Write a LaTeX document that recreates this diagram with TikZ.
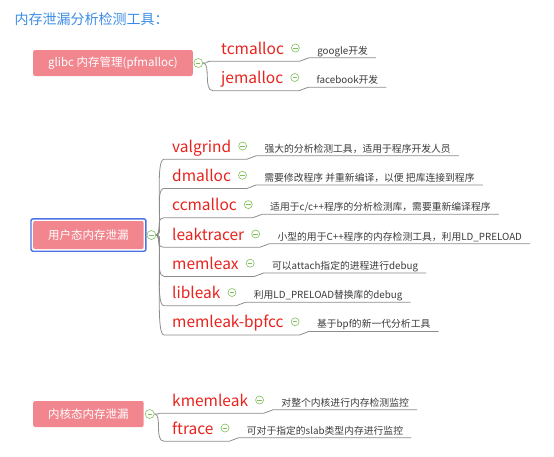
\documentclass[tikz,border=0pt]{standalone}
\usepackage{fontspec}
\setmainfont{Noto Sans CJK SC}
\usetikzlibrary{positioning,fit}
\definecolor{rootpink}{HTML}{F2868F}
\definecolor{toolred}{HTML}{E8221C}
\definecolor{titleblue}{HTML}{3C8CE6}
\definecolor{foldgreen}{HTML}{7FBF5A}
\definecolor{selblue}{HTML}{4C72E6}
\definecolor{linegray}{HTML}{8C8C8C}
\definecolor{notegray}{HTML}{3A3A3A}

\begin{document}
\begin{tikzpicture}[x=1pt, y=-1pt,
	root/.style={rectangle, rounded corners=2pt, fill=rootpink, text=white, font=\fontsize{11.5}{14}\selectfont, minimum height=26pt, inner xsep=15pt, anchor=west},
	tool/.style={text=toolred, font=\fontsize{15.5}{19}\selectfont, inner sep=0pt, text height=12pt, text depth=7pt, anchor=base west},
	note/.style={text=notegray, font=\fontsize{9.8}{12}\selectfont, inner xsep=8pt, inner ysep=0pt, text height=8pt, text depth=3.5pt},
	fold/.style={circle, draw=foldgreen, fill=white, line width=0.6pt, minimum size=8pt, inner sep=0pt,
		path picture={\draw[foldgreen, line width=0.7pt] ([xshift=-2.2pt]path picture bounding box.center) -- ([xshift=2.2pt]path picture bounding box.center);}},
	branch/.style={draw=linegray, line width=0.8pt}]
	\useasboundingbox (0,0) rectangle (554,456);
	\node[text=titleblue, font=\fontsize{14}{16}\selectfont, anchor=west] (title) at (11,19) {内存泄漏分析检测工具：};
	\node[root] (glibc) at (33,63) {glibc 内存管理(pfmalloc)};
	\node[root, minimum height=28pt] (user) at (33,235) {用户态内存泄漏};
	\node[draw=selblue, line width=1.4pt, rounded corners=2pt, inner sep=2pt, fit=(user)] (usersel) {};
	\node[root] (kernel) at (33,414) {内核态内存泄漏};
	\node[fold, minimum size=9pt, right=0.5pt of glibc] (gj) {};
	\node[fold, minimum size=9pt, right=0pt of usersel] (uj) {};
	\node[fold, minimum size=9pt, right=1pt of kernel] (kj) {};
	\foreach \r/\x/\y/\lab/\txt [count=\i] in {
			gj/221/54/tcmalloc/google开发,
			gj/221/83.5/jemalloc/facebook开发,
			uj/172/152/valgrind/强大的分析检测工具，适用于程序开发人员,
			uj/172/181.3/dmalloc/需要修改程序 并重新编译，以便 把库连接到程序,
			uj/172/210.6/ccmalloc/{适用于c/c++程序的分析检测库，需要重新编译程序},
			uj/172/240/leaktracer/小型的用于C++程序的内存检测工具，利用LD\_PRELOAD,
			uj/172/269.2/memleax/可以attach指定的进程进行debug,
			uj/172/298.5/libleak/利用LD\_PRELOAD替换库的debug,
			uj/172/327.8/memleak-bpfcc/基于bpf的新一代分析工具,
			kj/172/406/kmemleak/对整个内核进行内存检测监控,
			kj/172/434/ftrace/可对于指定的slab类型内存进行监控}
		{
			\node[tool] (t\i) at (\x,\y) {\lab};
			\node[fold, right=7pt of t\i, yshift=3.5pt] (f\i) {};
			\node[note, base right=25pt of t\i] (n\i) {\txt};
			\draw[branch] (\r.east) .. controls +(8,0) and +(-10,0) .. ([xshift=-8pt]t\i.south west)
				-- (t\i.south -| f\i.east) to[out=0, in=180] (n\i.south west) -- (n\i.south east);
		}
\end{tikzpicture}
\end{document}
